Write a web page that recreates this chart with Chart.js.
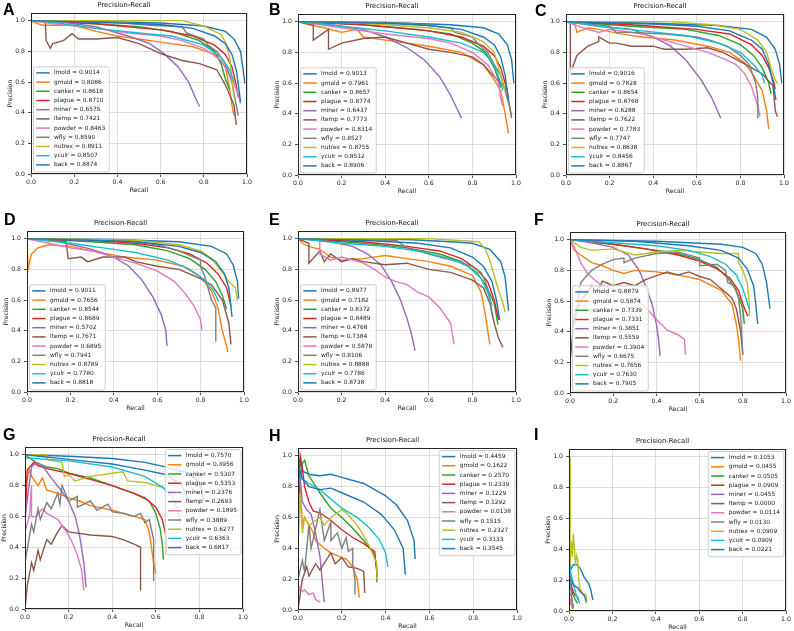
<!DOCTYPE html>
<html>
<head>
<meta charset="utf-8">
<script src="https://cdn.jsdelivr.net/npm/chart.js@4"></script>
<style>
  body { margin: 0; background: #fff; width: 794px; height: 631px; position: relative; overflow: hidden; }
  .panel { position: absolute; }
  .tag { position: absolute; font: bold 16px "Liberation Sans", Arial, sans-serif; line-height: 16px; color: #000; }
</style>
</head>
<body>
<script>
// classes, in plotting order
const names = ['lmold', 'gmold', 'canker', 'plague', 'miner', 'ltemp', 'powder', 'wfly', 'nutrex', 'yculr', 'back'];
const colors = ['#1f77b4', '#ff7f0e', '#2ca02c', '#d62728', '#9467bd', '#8c564b', '#e377c2', '#7f7f7f', '#bcbd22', '#17becf', '#1f77b4'];
const xTicks = [0, 0.2, 0.4, 0.6, 0.8, 1.0];

// average precision per class, one list per panel
const apA = [0.9014, 0.8086, 0.8618, 0.8710, 0.6575, 0.7421, 0.8463, 0.8590, 0.8911, 0.8507, 0.8874];
const apB = [0.9013, 0.7961, 0.8657, 0.8774, 0.6437, 0.7773, 0.8314, 0.8527, 0.8755, 0.8512, 0.8906];
const apC = [0.9016, 0.7828, 0.8654, 0.8768, 0.6288, 0.7622, 0.7783, 0.7747, 0.8838, 0.8456, 0.8867];
const apD = [0.9011, 0.7656, 0.8544, 0.8689, 0.5702, 0.7671, 0.6895, 0.7941, 0.8789, 0.7780, 0.8818];
const apE = [0.8977, 0.7182, 0.8372, 0.8489, 0.4768, 0.7384, 0.5878, 0.8106, 0.8888, 0.7786, 0.8738];
const apF = [0.8879, 0.5874, 0.7339, 0.7331, 0.3851, 0.5559, 0.3904, 0.6675, 0.7656, 0.7630, 0.7905];
const apG = [0.7570, 0.3956, 0.5307, 0.5353, 0.2376, 0.2693, 0.1895, 0.3889, 0.6277, 0.6363, 0.6817];
const apH = [0.4459, 0.1622, 0.2570, 0.2339, 0.1229, 0.1292, 0.0138, 0.1515, 0.2327, 0.3133, 0.3545];
const apI = [0.1053, 0.0455, 0.0505, 0.0909, 0.0455, 0.0000, 0.0114, 0.0130, 0.0909, 0.0909, 0.0221];

// precision-recall curves as [recall, precision]
const curvesA = [
  [[0,1],[0.3,0.995],[0.6,0.985],[0.8,0.965],[0.9,0.93],[0.94,0.88],[0.97,0.8],[0.98,0.7],[0.99,0.59]],
  [[0,1],[0.05,0.97],[0.2,0.97],[0.3,0.93],[0.4,0.9],[0.5,0.88],[0.6,0.86],[0.75,0.83],[0.85,0.78],[0.9,0.7],[0.92,0.55],[0.93,0.45],[0.94,0.38]],
  [[0,1],[0.3,0.98],[0.5,0.96],[0.65,0.93],[0.78,0.87],[0.85,0.8],[0.88,0.72],[0.9,0.62],[0.92,0.55]],
  [[0,1],[0.3,0.98],[0.6,0.94],[0.75,0.9],[0.85,0.84],[0.9,0.78],[0.93,0.7],[0.95,0.58],[0.96,0.5]],
  [[0,1],[0.15,0.99],[0.3,0.96],[0.45,0.9],[0.55,0.85],[0.62,0.78],[0.68,0.7],[0.73,0.6],[0.76,0.5],[0.78,0.44]],
  [[0,1],[0.066,1],[0.07,0.87],[0.09,0.82],[0.1,0.85],[0.15,0.87],[0.19,0.915],[0.22,0.88],[0.3,0.88],[0.4,0.89],[0.5,0.85],[0.6,0.785],[0.7,0.74],[0.78,0.72],[0.86,0.68],[0.9,0.58],[0.94,0.45],[0.95,0.32]],
  [[0,1],[0.1,0.98],[0.3,0.95],[0.45,0.92],[0.6,0.9],[0.7,0.87],[0.8,0.82],[0.88,0.74],[0.93,0.62],[0.96,0.52],[0.97,0.46]],
  [[0,1],[0.4,0.99],[0.55,0.97],[0.7,0.96],[0.72,0.92],[0.8,0.88],[0.82,0.84],[0.86,0.8],[0.9,0.72],[0.93,0.6],[0.95,0.45],[0.96,0.38]],
  [[0,1],[0.7,1],[0.8,0.965],[0.88,0.91],[0.9,0.86],[0.92,0.76],[0.93,0.62],[0.94,0.5]],
  [[0,1],[0.1,0.99],[0.3,0.95],[0.5,0.92],[0.65,0.9],[0.8,0.84],[0.88,0.76],[0.92,0.68],[0.94,0.6]],
  [[0,1],[0.3,0.99],[0.6,0.975],[0.75,0.95],[0.85,0.9],[0.9,0.85],[0.93,0.78],[0.95,0.68],[0.96,0.58],[0.97,0.47]]
];
const curvesB = [
  [[0,1],[0.4,0.995],[0.7,0.98],[0.85,0.96],[0.92,0.92],[0.96,0.85],[0.98,0.75],[0.99,0.6]],
  [[0,1],[0.05,0.98],[0.12,0.96],[0.2,0.93],[0.27,0.95],[0.3,0.9],[0.45,0.87],[0.6,0.84],[0.75,0.8],[0.85,0.72],[0.9,0.62],[0.93,0.55],[0.95,0.4],[0.96,0.32],[0.965,0.27]],
  [[0,1],[0.3,0.98],[0.55,0.95],[0.7,0.92],[0.8,0.86],[0.86,0.8],[0.9,0.7],[0.92,0.62],[0.93,0.57]],
  [[0,1],[0.3,0.98],[0.6,0.94],[0.75,0.9],[0.85,0.84],[0.9,0.78],[0.93,0.7],[0.95,0.6],[0.96,0.55]],
  [[0,1],[0.15,0.98],[0.3,0.95],[0.4,0.9],[0.5,0.83],[0.58,0.75],[0.65,0.64],[0.7,0.52],[0.73,0.43],[0.75,0.37]],
  [[0,1],[0.07,0.98],[0.07,0.88],[0.14,0.95],[0.14,0.82],[0.2,0.86],[0.3,0.89],[0.4,0.9],[0.5,0.86],[0.6,0.82],[0.7,0.8],[0.8,0.77],[0.85,0.72],[0.9,0.64],[0.93,0.6],[0.96,0.55],[0.97,0.45],[0.98,0.38]],
  [[0,1],[0.2,0.96],[0.4,0.92],[0.6,0.89],[0.7,0.86],[0.8,0.8],[0.87,0.72],[0.92,0.6],[0.93,0.5],[0.94,0.45]],
  [[0,1],[0.5,0.99],[0.7,0.96],[0.72,0.93],[0.8,0.9],[0.83,0.85],[0.87,0.8],[0.9,0.72],[0.93,0.65],[0.95,0.55],[0.97,0.45],[0.98,0.37]],
  [[0,1],[0.3,0.99],[0.6,0.96],[0.75,0.93],[0.85,0.87],[0.9,0.8],[0.92,0.7],[0.94,0.6],[0.95,0.55]],
  [[0,1],[0.2,0.97],[0.4,0.94],[0.6,0.9],[0.75,0.86],[0.85,0.8],[0.9,0.72],[0.93,0.6],[0.94,0.55]],
  [[0,1],[0.4,0.99],[0.6,0.975],[0.75,0.95],[0.85,0.9],[0.9,0.85],[0.93,0.77],[0.95,0.65],[0.965,0.49]]
];
const curvesC = [
  [[0,1],[0.4,0.99],[0.7,0.975],[0.85,0.95],[0.92,0.9],[0.96,0.82],[0.98,0.72],[0.99,0.6]],
  [[0,1],[0.04,0.99],[0.05,0.93],[0.1,0.96],[0.15,0.95],[0.25,0.92],[0.35,0.9],[0.5,0.88],[0.65,0.84],[0.75,0.8],[0.82,0.73],[0.86,0.65],[0.9,0.55],[0.92,0.42],[0.93,0.3]],
  [[0,1],[0.3,0.97],[0.55,0.95],[0.7,0.91],[0.8,0.85],[0.86,0.78],[0.9,0.7],[0.93,0.6],[0.94,0.53]],
  [[0,1],[0.3,0.98],[0.6,0.95],[0.75,0.92],[0.85,0.85],[0.9,0.78],[0.93,0.7],[0.95,0.62],[0.96,0.56]],
  [[0,1],[0.15,0.97],[0.3,0.95],[0.4,0.9],[0.48,0.84],[0.55,0.75],[0.62,0.62],[0.67,0.5],[0.71,0.37]],
  [[0,1],[0.02,1],[0.02,0.66],[0.05,0.78],[0.1,0.84],[0.15,0.87],[0.15,0.9],[0.2,0.86],[0.23,0.86],[0.3,0.84],[0.4,0.84],[0.45,0.82],[0.55,0.82],[0.65,0.83],[0.72,0.8],[0.8,0.74],[0.85,0.7],[0.9,0.66],[0.95,0.58],[0.96,0.42],[0.97,0.38]],
  [[0,1],[0.1,0.95],[0.15,0.93],[0.2,0.95],[0.35,0.92],[0.45,0.88],[0.55,0.84],[0.65,0.8],[0.72,0.76],[0.78,0.72],[0.82,0.66],[0.85,0.58],[0.88,0.45],[0.89,0.38]],
  [[0,1],[0.2,0.97],[0.23,0.93],[0.3,0.93],[0.45,0.92],[0.6,0.9],[0.66,0.88],[0.74,0.84],[0.8,0.78],[0.84,0.72],[0.87,0.6],[0.88,0.5],[0.88,0.37]],
  [[0,1],[0.47,1],[0.67,0.98],[0.8,0.95],[0.88,0.88],[0.92,0.8],[0.94,0.7],[0.96,0.62],[0.97,0.6]],
  [[0,1],[0.15,0.97],[0.35,0.94],[0.55,0.91],[0.7,0.86],[0.8,0.8],[0.86,0.72],[0.9,0.65],[0.91,0.6]],
  [[0,1],[0.4,0.985],[0.6,0.97],[0.75,0.94],[0.85,0.88],[0.9,0.82],[0.93,0.72],[0.95,0.6],[0.963,0.49]]
];
const curvesD = [
  [[0,1],[0.4,0.995],[0.7,0.98],[0.85,0.95],[0.92,0.9],[0.95,0.83],[0.97,0.72],[0.975,0.61]],
  [[0,1],[0.005,0.8],[0.02,0.9],[0.05,0.94],[0.1,0.96],[0.2,0.95],[0.3,0.92],[0.45,0.88],[0.6,0.86],[0.72,0.82],[0.8,0.75],[0.85,0.66],[0.88,0.55],[0.9,0.4],[0.92,0.3],[0.925,0.26]],
  [[0,1],[0.3,0.98],[0.5,0.96],[0.65,0.92],[0.75,0.87],[0.82,0.8],[0.87,0.72],[0.9,0.63],[0.92,0.54]],
  [[0,1],[0.3,0.99],[0.5,0.97],[0.65,0.94],[0.75,0.9],[0.83,0.84],[0.88,0.77],[0.92,0.68],[0.94,0.56]],
  [[0,1],[0.15,0.98],[0.3,0.93],[0.4,0.88],[0.47,0.82],[0.53,0.73],[0.58,0.62],[0.62,0.5],[0.64,0.4],[0.645,0.3]],
  [[0,1],[0.18,0.98],[0.19,0.87],[0.25,0.88],[0.28,0.85],[0.35,0.88],[0.45,0.88],[0.5,0.85],[0.6,0.82],[0.7,0.8],[0.8,0.74],[0.85,0.7],[0.9,0.6],[0.93,0.45],[0.94,0.31]],
  [[0,1],[0.1,0.97],[0.2,0.94],[0.3,0.92],[0.4,0.88],[0.5,0.84],[0.6,0.79],[0.68,0.72],[0.73,0.64],[0.77,0.56],[0.8,0.47],[0.806,0.4]],
  [[0,1],[0.45,0.99],[0.6,0.96],[0.7,0.92],[0.8,0.86],[0.8,0.82],[0.82,0.75],[0.84,0.65],[0.85,0.6],[0.87,0.55],[0.87,0.33]],
  [[0,1],[0.5,0.99],[0.7,0.96],[0.8,0.92],[0.85,0.87],[0.9,0.78],[0.93,0.72],[0.96,0.68],[0.97,0.6]],
  [[0,1],[0.2,0.97],[0.4,0.93],[0.5,0.91],[0.65,0.86],[0.75,0.8],[0.82,0.73],[0.86,0.66],[0.883,0.59]],
  [[0,1],[0.3,0.99],[0.5,0.98],[0.7,0.95],[0.8,0.91],[0.87,0.85],[0.91,0.77],[0.93,0.68],[0.945,0.49]]
];
const curvesE = [
  [[0,1],[0.5,0.995],[0.7,0.98],[0.8,0.97],[0.88,0.93],[0.93,0.85],[0.95,0.75],[0.966,0.53]],
  [[0,1],[0.02,0.97],[0.05,0.95],[0.1,0.93],[0.15,0.88],[0.2,0.86],[0.3,0.87],[0.4,0.89],[0.5,0.87],[0.6,0.85],[0.7,0.82],[0.8,0.76],[0.84,0.65],[0.86,0.5],[0.87,0.4],[0.88,0.31]],
  [[0,1],[0.3,0.97],[0.5,0.94],[0.65,0.9],[0.75,0.85],[0.82,0.78],[0.86,0.7],[0.9,0.58],[0.917,0.44]],
  [[0,1],[0.3,0.98],[0.5,0.95],[0.65,0.92],[0.75,0.87],[0.82,0.8],[0.87,0.72],[0.9,0.6],[0.92,0.47]],
  [[0,1],[0.15,0.98],[0.25,0.95],[0.32,0.9],[0.38,0.83],[0.43,0.72],[0.47,0.6],[0.5,0.48],[0.52,0.38],[0.537,0.27]],
  [[0,1],[0.05,0.97],[0.05,0.84],[0.1,0.92],[0.12,0.85],[0.15,0.9],[0.2,0.85],[0.25,0.87],[0.3,0.85],[0.4,0.83],[0.5,0.84],[0.6,0.8],[0.7,0.78],[0.8,0.73],[0.85,0.68],[0.88,0.58],[0.9,0.45],[0.92,0.35],[0.94,0.29]],
  [[0,1],[0.1,0.99],[0.1,0.9],[0.15,0.86],[0.2,0.88],[0.3,0.84],[0.35,0.8],[0.4,0.75],[0.45,0.72],[0.5,0.7],[0.55,0.65],[0.6,0.62],[0.65,0.55],[0.7,0.45],[0.716,0.31]],
  [[0,1],[0.45,0.99],[0.5,0.94],[0.6,0.9],[0.65,0.88],[0.73,0.85],[0.8,0.82],[0.84,0.78],[0.86,0.72],[0.88,0.62],[0.89,0.5]],
  [[0,1],[0.6,1],[0.83,0.98],[0.86,0.93],[0.88,0.86],[0.9,0.76],[0.92,0.66],[0.94,0.58],[0.95,0.52]],
  [[0,1],[0.2,0.97],[0.4,0.95],[0.55,0.92],[0.7,0.87],[0.78,0.82],[0.84,0.74],[0.87,0.65],[0.89,0.56]],
  [[0,1],[0.3,0.99],[0.55,0.97],[0.7,0.94],[0.8,0.88],[0.85,0.82],[0.89,0.72],[0.91,0.6],[0.925,0.47]]
];
const curvesF = [
  [[0,1],[0.4,0.99],[0.7,0.97],[0.8,0.95],[0.86,0.91],[0.89,0.84],[0.91,0.72],[0.926,0.55]],
  [[0,1],[0.02,0.93],[0.05,0.9],[0.1,0.85],[0.15,0.83],[0.2,0.8],[0.25,0.78],[0.3,0.8],[0.4,0.79],[0.45,0.78],[0.5,0.77],[0.6,0.74],[0.7,0.67],[0.75,0.58],[0.77,0.45],[0.78,0.35],[0.79,0.21]],
  [[0,1],[0.2,0.97],[0.35,0.94],[0.5,0.91],[0.6,0.87],[0.68,0.82],[0.73,0.75],[0.77,0.67],[0.8,0.55],[0.807,0.45]],
  [[0,1],[0.2,0.97],[0.35,0.94],[0.5,0.9],[0.6,0.86],[0.68,0.81],[0.74,0.75],[0.78,0.67],[0.8,0.58],[0.823,0.5]],
  [[0,1],[0.1,0.98],[0.2,0.95],[0.27,0.9],[0.32,0.8],[0.35,0.7],[0.38,0.58],[0.4,0.45],[0.41,0.35],[0.417,0.24]],
  [[0,0.2],[0.02,0.5],[0.05,0.6],[0.1,0.7],[0.12,0.65],[0.15,0.73],[0.2,0.7],[0.25,0.72],[0.3,0.7],[0.35,0.74],[0.45,0.79],[0.5,0.77],[0.55,0.79],[0.6,0.76],[0.65,0.74],[0.7,0.68],[0.75,0.62],[0.77,0.55],[0.79,0.4],[0.8,0.25]],
  [[0,1],[0.02,0.95],[0.05,0.85],[0.08,0.78],[0.12,0.73],[0.15,0.7],[0.2,0.68],[0.28,0.64],[0.35,0.56],[0.4,0.48],[0.45,0.41],[0.5,0.38],[0.53,0.35],[0.534,0.25]],
  [[0.02,0.44],[0.05,0.72],[0.1,0.8],[0.15,0.84],[0.2,0.87],[0.25,0.88],[0.25,0.85],[0.3,0.88],[0.4,0.91],[0.5,0.92],[0.6,0.88],[0.6,0.83],[0.68,0.84],[0.72,0.8],[0.73,0.72],[0.76,0.7],[0.78,0.62],[0.79,0.5],[0.8,0.25]],
  [[0,1],[0.05,0.95],[0.1,0.93],[0.2,0.94],[0.3,0.9],[0.4,0.92],[0.5,0.93],[0.6,0.92],[0.7,0.91],[0.78,0.91],[0.78,0.85],[0.8,0.8],[0.82,0.72],[0.83,0.6],[0.83,0.5]],
  [[0,1],[0.2,0.98],[0.4,0.96],[0.55,0.93],[0.65,0.89],[0.72,0.84],[0.77,0.77],[0.8,0.68],[0.83,0.55]],
  [[0,1],[0.3,0.99],[0.55,0.96],[0.7,0.93],[0.78,0.88],[0.82,0.81],[0.85,0.7],[0.86,0.58],[0.869,0.45]]
];
const curvesG = [
  [[0,1],[0.2,0.99],[0.4,0.975],[0.55,0.95],[0.65,0.92],[0.75,0.88],[0.8,0.82],[0.82,0.7]],
  [[0,0.8],[0.02,0.9],[0.03,0.86],[0.06,0.8],[0.08,0.85],[0.1,0.77],[0.15,0.75],[0.2,0.72],[0.25,0.7],[0.3,0.67],[0.4,0.64],[0.5,0.6],[0.55,0.58],[0.57,0.5],[0.58,0.4],[0.59,0.3],[0.6,0.23]],
  [[0,1],[0.05,0.95],[0.1,0.92],[0.15,0.91],[0.2,0.88],[0.3,0.85],[0.4,0.8],[0.5,0.75],[0.57,0.7],[0.6,0.62],[0.62,0.52],[0.63,0.42],[0.635,0.32]],
  [[0,0.52],[0.01,0.9],[0.04,0.95],[0.06,0.93],[0.1,0.91],[0.2,0.88],[0.3,0.84],[0.4,0.8],[0.5,0.75],[0.55,0.72],[0.6,0.66],[0.63,0.58],[0.65,0.45],[0.65,0.36]],
  [[0,0.6],[0.03,0.92],[0.05,0.95],[0.08,0.93],[0.12,0.85],[0.16,0.78],[0.2,0.7],[0.23,0.6],[0.25,0.48],[0.27,0.3],[0.28,0.14]],
  [[0,0],[0.01,0.15],[0.03,0.3],[0.04,0.25],[0.06,0.38],[0.07,0.32],[0.1,0.45],[0.12,0.42],[0.15,0.5],[0.17,0.54],[0.2,0.5],[0.3,0.48],[0.4,0.47],[0.45,0.45],[0.5,0.42],[0.53,0.4],[0.53,0.12]],
  [[0,0.5],[0.01,0.55],[0.02,0.6],[0.03,0.8],[0.03,0.6],[0.05,0.6],[0.08,0.65],[0.1,0.62],[0.15,0.58],[0.18,0.52],[0.2,0.48],[0.22,0.42],[0.24,0.35],[0.26,0.25],[0.27,0.12]],
  [[0,0.3],[0.03,0.55],[0.04,0.5],[0.06,0.65],[0.07,0.58],[0.1,0.69],[0.12,0.65],[0.15,0.75],[0.16,0.68],[0.17,0.8],[0.2,0.7],[0.24,0.73],[0.24,0.66],[0.3,0.7],[0.33,0.64],[0.38,0.68],[0.4,0.63],[0.45,0.62],[0.5,0.6],[0.53,0.62],[0.55,0.56],[0.57,0.58],[0.59,0.45],[0.59,0.18]],
  [[0,1],[0.1,1],[0.1,0.97],[0.17,0.95],[0.18,0.86],[0.2,0.87],[0.23,0.83],[0.3,0.86],[0.4,0.88],[0.45,0.89],[0.47,0.83],[0.55,0.82],[0.6,0.8],[0.63,0.79],[0.65,0.76]],
  [[0,0.98],[0.2,0.96],[0.4,0.92],[0.55,0.86],[0.64,0.78],[0.68,0.72],[0.7,0.64],[0.71,0.55]],
  [[0,1],[0.2,0.97],[0.4,0.94],[0.55,0.9],[0.65,0.87],[0.72,0.8],[0.75,0.7]]
];
const curvesH = [
  [[0,1],[0.02,0.9],[0.05,0.88],[0.1,0.87],[0.15,0.88],[0.2,0.86],[0.3,0.82],[0.4,0.74],[0.45,0.68],[0.5,0.58],[0.53,0.45],[0.535,0.33]],
  [[0,0.5],[0.01,0.8],[0.02,0.55],[0.03,0.6],[0.05,0.55],[0.07,0.5],[0.08,0.45],[0.12,0.4],[0.15,0.37],[0.2,0.34],[0.22,0.33],[0.25,0.28],[0.27,0.2],[0.28,0.08]],
  [[0,0.7],[0.02,0.95],[0.03,0.97],[0.05,0.87],[0.1,0.76],[0.15,0.66],[0.2,0.6],[0.25,0.53],[0.3,0.45],[0.35,0.36],[0.36,0.25],[0.36,0.18]],
  [[0,0.7],[0.01,1],[0.02,0.92],[0.03,0.8],[0.05,0.7],[0.07,0.64],[0.1,0.63],[0.15,0.58],[0.2,0.52],[0.25,0.47],[0.3,0.43],[0.35,0.38],[0.36,0.25],[0.36,0.21]],
  [[0,0.75],[0.01,0.85],[0.02,0.7],[0.04,0.65],[0.06,0.62],[0.08,0.5],[0.1,0.35],[0.11,0.2],[0.12,0.05]],
  [[0,0],[0.02,0.2],[0.04,0.28],[0.05,0.22],[0.08,0.3],[0.1,0.26],[0.15,0.37],[0.17,0.3],[0.2,0.34],[0.23,0.28],[0.27,0.27],[0.3,0.25],[0.305,0.11]],
  [[0,0.1],[0.01,0.15],[0.02,0.12],[0.03,0.13],[0.05,0.1],[0.07,0.11],[0.08,0.07],[0.1,0.05]],
  [[0,0.2],[0.02,0.32],[0.03,0.25],[0.05,0.55],[0.06,0.4],[0.1,0.65],[0.12,0.45],[0.15,0.57],[0.15,0.45],[0.18,0.5],[0.2,0.4],[0.22,0.47],[0.23,0.38],[0.25,0.4],[0.25,0.3],[0.26,0.2],[0.26,0.1]],
  [[0,0.4],[0.01,0.75],[0.02,0.5],[0.03,0.6],[0.05,0.55],[0.08,0.58],[0.1,0.6],[0.12,0.55],[0.15,0.6],[0.17,0.62],[0.2,0.65],[0.22,0.63],[0.27,0.55],[0.3,0.48],[0.33,0.4],[0.36,0.3],[0.36,0.2]],
  [[0,0.95],[0.02,0.85],[0.05,0.82],[0.1,0.78],[0.15,0.72],[0.2,0.66],[0.27,0.6],[0.32,0.54],[0.37,0.46],[0.4,0.37],[0.41,0.28]],
  [[0,0.95],[0.02,0.85],[0.05,0.8],[0.1,0.78],[0.15,0.79],[0.2,0.76],[0.3,0.7],[0.38,0.62],[0.44,0.52],[0.48,0.4],[0.49,0.23]]
];
const curvesI = [
  [[0,0.25],[0.02,0.3],[0.035,0.3],[0.05,0.28],[0.07,0.22],[0.09,0.18],[0.1,0.14],[0.11,0.07]],
  [[0,0.08],[0.01,0.04],[0.02,0.01]],
  [[0,0.25],[0.01,0.14],[0.02,0.1],[0.03,0.07],[0.04,0.05]],
  [[0,0.2],[0.01,0.17],[0.02,0.12],[0.03,0.1],[0.04,0.09],[0.045,0.07]],
  [[0,0.12],[0.01,0.1],[0.015,0.06],[0.02,0.03]],
  [[0,0],[1,0]],
  [[0,0.1],[0.01,0.05],[0.02,0.02]],
  [[0,0.55],[0.005,0.3],[0.01,0.12],[0.015,0.05],[0.02,0.02]],
  [[0.005,1],[0.005,0.3],[0.01,0.45],[0.015,0.35],[0.02,0.5],[0.03,0.3],[0.035,0.36],[0.04,0.33],[0.045,0.2],[0.05,0.15],[0.06,0.12],[0.08,0.1],[0.08,0.05]],
  [[0,0.33],[0.01,0.23],[0.02,0.18],[0.03,0.12],[0.04,0.08],[0.05,0.05]],
  [[0,0.22],[0.01,0.2],[0.02,0.17],[0.04,0.15],[0.05,0.13],[0.07,0.1],[0.08,0.06]]
];

// panel placement: plot box [left, top, right, bottom] in page pixels, letter spot
const panels = [
  { tag: 'A', curves: curvesA, ap: apA, corner: 'll', box: [31, 13, 247, 174], at: [3, 1.5] },
  { tag: 'B', curves: curvesB, ap: apB, corner: 'll', box: [298, 14, 516, 175], at: [269, 1.5] },
  { tag: 'C', curves: curvesC, ap: apC, corner: 'll', box: [566, 14, 784, 175], at: [535, 2.5] },
  { tag: 'D', curves: curvesD, ap: apD, corner: 'll', box: [27, 231, 244, 392], at: [4, 211.5] },
  { tag: 'E', curves: curvesE, ap: apE, corner: 'll', box: [298, 231, 516, 392], at: [269, 211.5] },
  { tag: 'F', curves: curvesF, ap: apF, corner: 'll', box: [570, 232, 786, 393], at: [534, 211.5] },
  { tag: 'G', curves: curvesG, ap: apG, corner: 'ur', box: [25, 447, 243, 609], at: [3, 427] },
  { tag: 'H', curves: curvesH, ap: apH, corner: 'ur', box: [298, 448, 517, 610], at: [269, 427.5] },
  { tag: 'I', curves: curvesI, ap: apI, corner: 'ur', box: [569, 449, 786, 611], at: [534, 426.5] }
];

const FONT = 'DejaVu Sans';
const LEFT = 30, TOP = 16, RIGHT = 12, BOTTOM = 22;

// axes frame and matplotlib-like legend, drawn over the curves
const frameLegend = {
  id: 'frameLegend',
  afterDatasetsDraw(chart, args, opts) {
    const ctx = chart.ctx;
    const a = chart.chartArea;
    ctx.save();
    ctx.strokeStyle = '#262626';
    ctx.lineWidth = 1;
    ctx.strokeRect(a.left + 0.5, a.top + 0.5, a.width - 1, a.height - 1);

    const ds = chart.data.datasets;
    ctx.font = opts.size + 'px "' + FONT + '"';
    let tw = 0;
    ds.forEach(d => { tw = Math.max(tw, ctx.measureText(d.label).width); });
    const row = 9.2, padY = 6.6;
    const w = 3.3 + 13.3 + 4.4 + tw + 3.5;
    const h = row * (ds.length - 1) + 2 * padY;
    let x, y;
    if (opts.corner === 'ur') { x = a.right - 2.5 - w; y = a.top + 2; }
    else { x = a.left + 2; y = a.bottom - 2.5 - h; }
    ctx.fillStyle = 'rgba(255,255,255,0.8)';
    ctx.strokeStyle = '#cccccc';
    ctx.beginPath();
    ctx.roundRect(x + 0.5, y + 0.5, w, h, 2);
    ctx.fill();
    ctx.stroke();
    ctx.textBaseline = 'middle';
    ctx.textAlign = 'left';
    ds.forEach((d, i) => {
      const cy = y + padY + i * row;
      ctx.strokeStyle = d.borderColor;
      ctx.lineWidth = 1.5;
      ctx.beginPath();
      ctx.moveTo(x + 3.3, cy);
      ctx.lineTo(x + 16.6, cy);
      ctx.stroke();
      ctx.fillStyle = '#1a1a1a';
      ctx.fillText(d.label, x + 21, cy);
    });
    ctx.restore();
  }
};

function crearPanel(p) {
  const [l, t, r, b] = p.box;
  const div = document.createElement('div');
  div.className = 'panel';
  div.style.left = (l - LEFT) + 'px';
  div.style.top = (t - TOP) + 'px';
  const canvas = document.createElement('canvas');
  canvas.width = (r - l) + LEFT + RIGHT;
  canvas.height = (b - t) + TOP + BOTTOM;
  div.appendChild(canvas);
  document.body.appendChild(div);

  const tag = document.createElement('div');
  tag.className = 'tag';
  tag.style.left = p.at[0] + 'px';
  tag.style.top = p.at[1] + 'px';
  tag.textContent = p.tag;
  document.body.appendChild(tag);

  const datasets = p.curves.map((pts, i) => ({
    label: names[i] + ' = ' + p.ap[i].toFixed(4),
    data: pts.map(q => ({ x: q[0], y: q[1] })),
    borderColor: colors[i],
    borderWidth: 1.4,
    pointRadius: 0,
    fill: false,
    tension: 0,
    order: names.length - i
  }));

  const tickFont = { family: FONT, size: 6.2 };
  new Chart(canvas.getContext('2d'), {
    type: 'line',
    data: { datasets: datasets },
    plugins: [frameLegend],
    options: {
      responsive: false,
      animation: false,
      devicePixelRatio: 1,
      events: [],
      layout: { padding: { left: 0, top: 0, right: RIGHT, bottom: 0 } },
      plugins: {
        legend: { display: false },
        tooltip: { enabled: false },
        title: {
          display: true,
          text: 'Precision-Recall',
          color: '#111',
          font: { family: FONT, size: 6.8, weight: 'normal', lineHeight: '9px' },
          padding: { top: 4, bottom: 3 }
        },
        frameLegend: { corner: p.corner, size: 5.9 }
      },
      scales: {
        x: {
          type: 'linear',
          min: 0,
          max: 1,
          afterBuildTicks: s => { s.ticks = xTicks.map(v => ({ value: v })); },
          ticks: { callback: v => v.toFixed(1), font: tickFont, color: '#1a1a1a', padding: 2, maxRotation: 0, autoSkip: false },
          grid: { color: '#d4d4d4', lineWidth: 0.8, tickColor: '#262626', tickLength: 3 },
          border: { display: false },
          title: { display: true, text: 'Recall', color: '#1a1a1a', font: tickFont, padding: { top: 0, bottom: 2 } },
          afterFit: s => { s.height = BOTTOM; }
        },
        y: {
          min: 0,
          max: 1.05,
          bounds: 'data',
          afterBuildTicks: s => { s.ticks = xTicks.map(v => ({ value: v })); },
          ticks: { callback: v => v.toFixed(1), font: tickFont, color: '#1a1a1a', padding: 3 },
          grid: { color: '#d4d4d4', lineWidth: 0.8, tickColor: '#262626', tickLength: 3 },
          border: { display: false },
          title: { display: true, text: 'Precision', color: '#1a1a1a', font: tickFont, padding: { top: 6, bottom: 0 } },
          afterFit: s => { s.width = LEFT; }
        }
      }
    }
  });
}

panels.forEach(crearPanel);
</script>
</body>
</html>
